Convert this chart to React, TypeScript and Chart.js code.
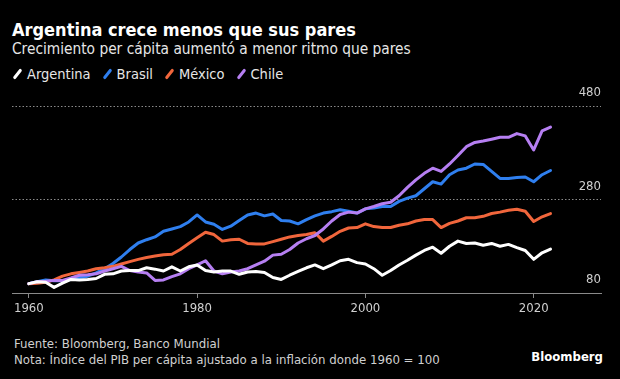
import React, { useEffect, useRef } from 'react';
import { Chart, registerables } from 'chart.js';

Chart.register(...registerables);

const years = [
  1960, 1961, 1962, 1963, 1964, 1965, 1966, 1967, 1968, 1969,
  1970, 1971, 1972, 1973, 1974, 1975, 1976, 1977, 1978, 1979,
  1980, 1981, 1982, 1983, 1984, 1985, 1986, 1987, 1988, 1989,
  1990, 1991, 1992, 1993, 1994, 1995, 1996, 1997, 1998, 1999,
  2000, 2001, 2002, 2003, 2004, 2005, 2006, 2007, 2008, 2009,
  2010, 2011, 2012, 2013, 2014, 2015, 2016, 2017, 2018, 2019,
  2020, 2021, 2022,
];

const argentina = [
  100, 104, 103, 92, 101, 109, 108, 109, 111, 120,
  121, 127, 128, 128, 134, 131, 127, 136, 127, 136,
  140, 128, 125, 127, 127, 120, 125, 126, 124, 113,
  109, 118, 126, 134, 140, 132, 140, 149, 152, 145,
  142, 132, 118, 128, 140, 150, 161, 171, 178, 165,
  180, 191, 186, 187, 182, 186, 180, 184, 177, 171,
  152, 166, 174,
];

const brasil = [
  100, 104, 108, 106, 106, 109, 113, 116, 123, 132,
  143, 157, 173, 187, 194, 200, 212, 217, 222, 232,
  247, 232, 227, 216, 223, 235, 247, 251, 245, 249,
  235, 234, 228, 237, 245, 251, 254, 258, 255, 251,
  260, 262, 265, 265, 276, 283, 288, 303, 318, 313,
  333, 343, 347, 356, 355, 340, 325, 325, 327, 328,
  318, 333, 342,
];

const mexico = [
  100, 101, 103, 108, 116, 121, 124, 127, 132, 134,
  137, 142, 147, 152, 156, 159, 162, 163, 173, 186,
  198, 210, 205, 191, 194, 195, 186, 185, 185, 190,
  195, 200, 203, 205, 209, 191, 201, 212, 219, 220,
  228, 222, 220, 220, 225, 228, 234, 237, 237, 220,
  229, 234, 241, 241, 244, 250, 253, 257, 259, 255,
  233, 243, 250,
];

const chile = [
  100, 104, 105, 107, 107, 112, 118, 119, 121, 127,
  132, 137, 128, 125, 123, 107, 108, 115, 121, 132,
  140, 149, 127, 121, 125, 127, 132, 140, 148, 161,
  163, 173, 187, 196, 203, 217, 234, 248, 253, 251,
  260, 265, 271, 274, 288, 306, 322, 336, 347, 340,
  356, 374, 393, 402, 405, 409, 413, 413, 421, 416,
  386, 427, 435,
];

const xTicks = [1960, 1980, 2000, 2020];
const yTicks = [80, 280, 480];

const seriesNames = ['Argentina', 'Brasil', 'México', 'Chile'];
const seriesColors = ['#ffffff', '#2f7fef', '#f1663c', '#b67ff2'];

const FONT = '"DejaVu Sans Condensed", "DejaVu Sans", sans-serif';

export default function App() {
  const canvasRef = useRef<HTMLCanvasElement | null>(null);

  useEffect(() => {
    document.body.style.margin = '0';
    document.body.style.background = '#000';
    const canvas = canvasRef.current;
    if (!canvas) return;
    const allSeries = [argentina, brasil, mexico, chile];
    const chart = new Chart(canvas, {
      type: 'line',
      data: {
        datasets: allSeries.map((s, i) => ({
          label: seriesNames[i],
          data: years.map((y, j) => ({ x: y, y: s[j] })),
          borderColor: seriesColors[i],
          backgroundColor: seriesColors[i],
          borderWidth: 3,
          pointRadius: 0,
          tension: 0,
          borderJoinStyle: 'round' as const,
          borderCapStyle: 'round' as const,
          order: i === 0 ? 0 : 4 - i,
        })),
      },
      options: {
        animation: false,
        responsive: false,
        maintainAspectRatio: false,
        layout: { padding: { left: 12, right: 19, top: 26, bottom: 0 } },
        plugins: {
          legend: { display: false },
          tooltip: { enabled: false },
          title: { display: false },
        },
        scales: {
          x: {
            type: 'linear',
            min: 1958,
            max: 2028,
            afterBuildTicks: (scale: any) => {
              scale.ticks = xTicks.map((v) => ({ value: v }));
            },
            afterFit: (scale: any) => {
              scale.height = 30;
            },
            grid: {
              drawOnChartArea: false,
              drawTicks: true,
              tickLength: 5,
              color: '#8a8a8a',
            },
            border: { display: true, color: '#8a8a8a', width: 1 },
            ticks: {
              color: '#d0d0d0',
              font: { family: FONT, size: 13 },
              padding: 3,
              maxRotation: 0,
              autoSkip: false,
              callback: (v: any) => String(v),
            },
          },
          y: {
            type: 'linear',
            position: 'right',
            min: 80,
            max: 480,
            afterBuildTicks: (scale: any) => {
              scale.ticks = yTicks.map((v) => ({ value: v }));
            },
            afterFit: (scale: any) => {
              scale.width = 0;
            },
            grid: {
              drawTicks: false,
              color: (ctx: any) => (ctx.tick && ctx.tick.value === 80 ? 'rgba(0,0,0,0)' : '#8a8a8a'),
              lineWidth: 1,
            },
            border: { display: false, dash: [1.5, 2] },
            ticks: {
              mirror: true,
              padding: 0,
              labelOffset: -13,
              color: '#d0d0d0',
              font: { family: FONT, size: 13 },
              callback: (v: any) => String(v),
            },
          },
        },
      },
    });
    return () => chart.destroy();
  }, []);

  const legendItem = (name: string, color: string) => (
    <div key={name} style={{ display: 'flex', alignItems: 'center', marginRight: 9 }}>
      <div
        style={{
          width: 3,
          height: 12,
          background: color,
          borderRadius: 1.5,
          transform: 'rotate(38deg)',
          marginLeft: 6,
          marginRight: 8,
        }}
      />
      <span style={{ color: '#e6e6e6', fontSize: 14.5, fontFamily: FONT }}>{name}</span>
    </div>
  );

  return (
    <div
      style={{
        position: 'fixed',
        left: 0,
        top: 0,
        width: 620,
        height: 379,
        background: '#000',
        overflow: 'hidden',
      }}
    >
      <div
        style={{
          position: 'absolute',
          left: 12,
          top: 19,
          color: '#ffffff',
          fontFamily: FONT,
          fontWeight: 'bold',
          fontSize: 18,
          whiteSpace: 'nowrap',
        }}
      >
        Argentina crece menos que sus pares
      </div>
      <div
        style={{
          position: 'absolute',
          left: 12,
          top: 40,
          color: '#e6e6e6',
          fontFamily: FONT,
          fontSize: 15.3,
          whiteSpace: 'nowrap',
        }}
      >
        Crecimiento per cápita aumentó a menor ritmo que pares
      </div>
      <div
        style={{
          position: 'absolute',
          left: 10,
          top: 66,
          display: 'flex',
          alignItems: 'center',
          whiteSpace: 'nowrap',
        }}
      >
        {seriesNames.map((n, i) => legendItem(n, seriesColors[i]))}
      </div>
      <canvas
        ref={canvasRef}
        width={620}
        height={243}
        style={{ position: 'absolute', left: 0, top: 80, width: 620, height: 243 }}
      />
      <div
        style={{
          position: 'absolute',
          left: 14,
          top: 336,
          color: '#d0d0d0',
          fontFamily: FONT,
          fontSize: 13.1,
          lineHeight: '16px',
          whiteSpace: 'nowrap',
        }}
      >
        <div>Fuente: Bloomberg, Banco Mundial</div>
        <div>Nota: Índice del PIB per cápita ajustado a la inflación donde 1960 = 100</div>
      </div>
      <div
        style={{
          position: 'absolute',
          right: 17,
          top: 349,
          color: '#ffffff',
          fontFamily: FONT,
          fontWeight: 'bold',
          fontSize: 13,
          whiteSpace: 'nowrap',
        }}
      >
        Bloomberg
      </div>
    </div>
  );
}
